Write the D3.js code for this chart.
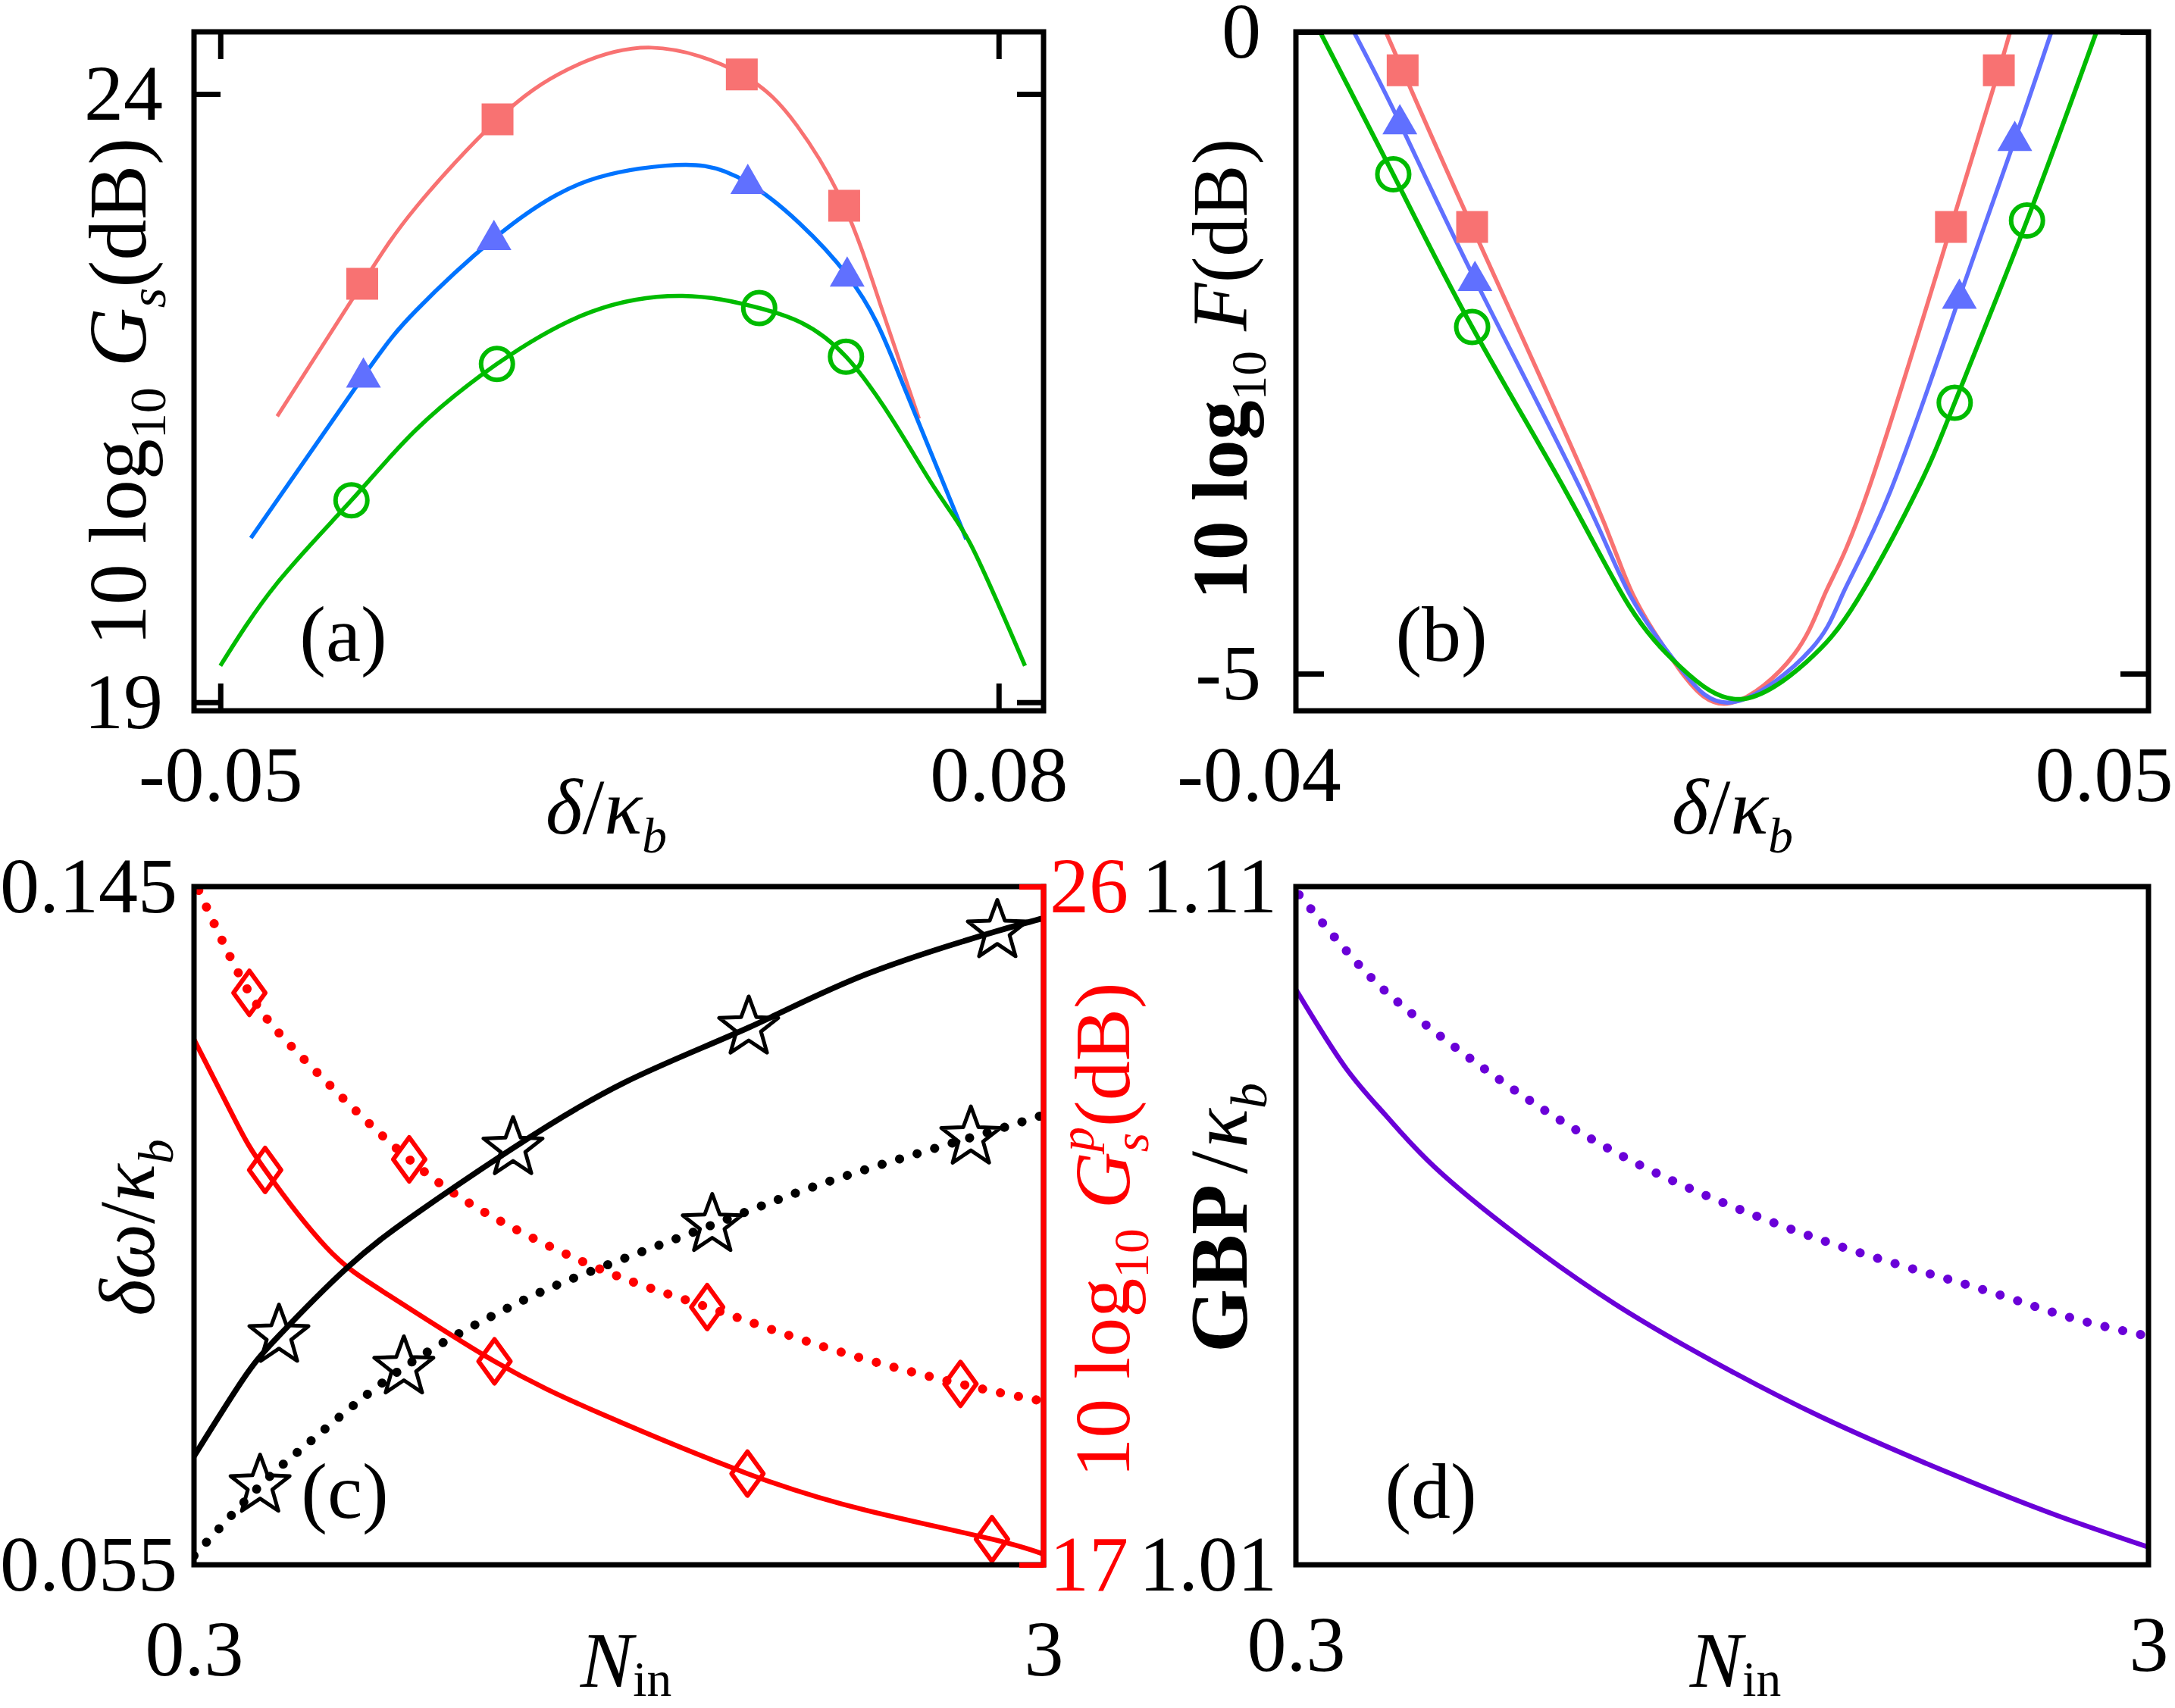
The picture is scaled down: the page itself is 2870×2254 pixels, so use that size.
<!DOCTYPE html>
<html>
<head>
<meta charset="utf-8">
<script src="https://cdn.jsdelivr.net/npm/d3@7"></script>
<style>
body { margin: 0; background: #fff; }
svg { display: block; }
text { font-family: "Liberation Serif", "Times New Roman", serif; }
</style>
</head>
<body>
<div id="chart"></div>
<script>
// (a) gain vs detuning
var aRed = [[-0.0405, 21.35], [-0.0263, 22.44], [-0.0173, 23.07], [-0.0037, 23.79], [0.0080, 24.20], [0.0220, 24.38], [0.0371, 24.16], [0.0463, 23.74], [0.0542, 23.08], [0.0603, 22.26], [0.0667, 21.33]];
var aBlue = [[-0.0449, 20.35], [-0.0261, 21.68], [-0.0173, 22.22], [-0.0043, 22.81], [0.0100, 23.26], [0.0244, 23.41], [0.0381, 23.27], [0.0547, 22.51], [0.0638, 21.64], [0.0746, 20.34]];
var aGreen = [[-0.0500, 19.30], [-0.0405, 19.98], [-0.0281, 20.66], [-0.0173, 21.24], [-0.0038, 21.78], [0.0120, 22.21], [0.0272, 22.34], [0.0400, 22.24], [0.0545, 21.84], [0.0684, 20.83], [0.0753, 20.30], [0.0844, 19.30]];
var aRedMarks = [[-0.0263, 22.44], [-0.0037, 23.79], [0.0371, 24.16], [0.0542, 23.08]];
var aBlueMarks = [[-0.0261, 21.68], [-0.0043, 22.81], [0.0381, 23.27], [0.0547, 22.51]];
var aGreenMarks = [[-0.0281, 20.66], [-0.0038, 21.78], [0.0400, 22.24], [0.0545, 21.84]];
var aTicksX = [-0.05, 0.08], aLabelsX = ["-0.05", "0.08"];
var aTicksY = [19, 24], aLabelsY = ["19", "24"];

// (b) noise figure vs detuning
var bRed = [[-0.0268, 0.0], [-0.0250, -0.30], [-0.0176, -1.52], [-0.0050, -3.57], [-0.0005, -4.38], [0.0045, -4.97], [0.0099, -5.23], [0.0167, -4.85], [0.0201, -4.36], [0.0246, -3.57], [0.0334, -1.52], [0.0385, -0.30], [0.0397, 0.0]];
var bBlue = [[-0.0302, 0.0], [-0.0253, -0.71], [-0.0173, -1.93], [-0.0060, -3.57], [-0.0007, -4.40], [0.0046, -4.96], [0.0104, -5.22], [0.0185, -4.81], [0.0220, -4.36], [0.0270, -3.57], [0.0343, -2.07], [0.0402, -0.84], [0.0441, 0.0]];
var bGreen = [[-0.0338, 0.0], [-0.0260, -1.11], [-0.0176, -2.30], [-0.0077, -3.57], [-0.0009, -4.47], [0.0046, -4.95], [0.0110, -5.20], [0.0180, -4.91], [0.0234, -4.43], [0.0298, -3.57], [0.0338, -2.89], [0.0415, -1.47], [0.0489, 0.0]];
var bRedMarks = [[-0.0250, -0.30], [-0.0176, -1.52], [0.0334, -1.52], [0.0385, -0.30]];
var bBlueMarks = [[-0.0253, -0.71], [-0.0173, -1.93], [0.0343, -2.07], [0.0402, -0.84]];
var bGreenMarks = [[-0.0260, -1.11], [-0.0176, -2.30], [0.0338, -2.89], [0.0415, -1.47]];
var bTicksX = [-0.04, 0.05], bLabelsX = ["-0.04", "0.05"];
var bTicksY = [-5, 0], bLabelsY = ["-5", "0"];

// (c) bandwidth (left axis) and gain (right axis) vs N_in
var cBlackSolid = [[0.3, 0.0694], [0.454, 0.0795], [0.570, 0.0854], [0.786, 0.0944], [1.006, 0.1016], [1.314, 0.1103], [1.668, 0.1190], [2.063, 0.1263], [2.439, 0.1334], [2.853, 0.1391], [3.0, 0.1408]];
var cBlackDotted = [[0.3, 0.0562], [0.510, 0.0655], [0.676, 0.0716], [0.967, 0.0812], [1.270, 0.0885], [1.516, 0.0932], [1.947, 0.1001], [2.327, 0.1060], [2.769, 0.1117], [3.0, 0.1147]];
var cRedSolid = [[0.3, 23.97], [0.432, 22.89], [0.526, 22.24], [0.719, 21.22], [0.918, 20.58], [1.255, 19.70], [1.601, 18.99], [2.059, 18.21], [2.439, 17.72], [2.836, 17.34], [3.0, 17.14]];
var cRedDotted = [[0.315, 25.95], [0.476, 24.59], [0.654, 23.69], [0.984, 22.38], [1.292, 21.52], [1.622, 20.87], [1.931, 20.42], [2.327, 19.86], [2.736, 19.40], [3.0, 19.17]];
var cSolidStars = [[0.570, 0.0854], [1.314, 0.1103], [2.063, 0.1263], [2.853, 0.1391]];
var cDottedStars = [[0.510, 0.0655], [0.967, 0.0812], [1.947, 0.1001], [2.769, 0.1117]];
var cSolidDiamonds = [[0.526, 22.24], [1.255, 19.70], [2.059, 18.21], [2.836, 17.34]];
var cDottedDiamonds = [[0.476, 24.59], [0.984, 22.38], [1.931, 20.42], [2.736, 19.40]];
var cTicksX = [0.3, 3], cLabelsX = ["0.3", "3"];
var cTicksY = [0.055, 0.145], cLabelsY = ["0.055", "0.145"];
var cTicksR = [17, 26], cLabelsR = ["17", "26"];

// (d) gain-bandwidth product vs N_in
var dSolid = [[0.3, 1.0948], [0.454, 1.0835], [0.584, 1.0763], [0.738, 1.0687], [1.001, 1.0586], [1.309, 1.0485], [1.617, 1.0401], [1.968, 1.0317], [2.386, 1.0232], [2.714, 1.0172], [3.0, 1.0126]];
var dDotted = [[0.31, 1.1088], [0.485, 1.0992], [0.617, 1.0932], [0.793, 1.0867], [1.046, 1.0783], [1.353, 1.0698], [1.716, 1.0622], [2.100, 1.0558], [2.474, 1.0506], [2.749, 1.0465], [3.0, 1.0437]];
var dTicksX = [0.3, 3], dLabelsX = ["0.3", "3"];
var dTicksY = [1.01, 1.11], dLabelsY = ["1.01", "1.11"];

var salmon = "#f87272", blueLine = "#0073ff", periwinkle = "#6070ff", green = "#00bb00";
var red = "#ff0000", purple = "#6a00d8";
var FS = 104;

var svg = d3.select("#chart")
  .append("svg")
  .attr("width", 2870)
  .attr("height", 2254);

function makePanel(id, box) {
  svg.append("clipPath")
    .attr("id", "clip-" + id)
    .append("rect")
    .attr("width", box.w)
    .attr("height", box.h);
  var g = svg.append("g")
    .attr("transform", "translate(" + box.x + "," + box.y + ")");
  g.plot = g.append("g").attr("clip-path", "url(#clip-" + id + ")");
  g.box = box;
  return g;
}

function drawFrame(g) {
  g.append("rect")
    .attr("width", g.box.w)
    .attr("height", g.box.h)
    .attr("fill", "none")
    .attr("stroke", "#000")
    .attr("stroke-width", 7);
}

function labelFormat(ticks, labels) {
  return function(d) { return labels[ticks.indexOf(d)]; };
}

function addAxis(g, axis, translate, color) {
  var a = g.append("g")
    .attr("transform", translate || null)
    .call(axis)
    .attr("font-size", FS)
    .attr("font-family", "Liberation Serif, serif");
  a.select(".domain").remove();
  a.selectAll(".tick line").attr("stroke", color || "#000").attr("stroke-width", 7);
  a.selectAll(".tick text").attr("fill", color || "#000");
  return a;
}

function drawLine(g, data, x, y, color, width, dotted) {
  var line = d3.line()
    .x(function(d) { return x(d[0]); })
    .y(function(d) { return y(d[1]); })
    .curve(d3.curveNatural);
  var path = g.plot.append("path")
    .datum(data)
    .attr("d", line)
    .attr("fill", "none")
    .attr("stroke", color)
    .attr("stroke-width", width);
  if (dotted) {
    path.attr("stroke-width", 12)
      .attr("stroke-dasharray", "0.1 24")
      .attr("stroke-linecap", "round");
  }
}

function starPath(ro, ri) {
  var pts = [];
  for (var i = 0; i < 10; i++) {
    var r = i % 2 === 0 ? ro : ri;
    var ang = -Math.PI / 2 + i * Math.PI / 5;
    pts.push([r * Math.cos(ang), r * Math.sin(ang)]);
  }
  return "M" + pts.join("L") + "Z";
}

var circlePath = d3.path();
circlePath.arc(0, 0, 21, 0, 2 * Math.PI);
var shapes = {
  square: "M-21,-21H21V21H-21Z",
  triangle: "M0,-25L23,15H-23Z",
  circle: circlePath.toString(),
  star: starPath(41, 17),
  diamond: "M0,-29L21,0L0,29L-21,0Z"
};

function drawMarkers(g, pts, x, y, shape, color, filled) {
  g.plot.selectAll(null)
    .data(pts)
    .enter()
    .append("path")
    .attr("d", shapes[shape])
    .attr("transform", function(d) { return "translate(" + x(d[0]) + "," + y(d[1]) + ")"; })
    .attr("fill", filled ? color : "none")
    .attr("stroke", filled ? "none" : color)
    .attr("stroke-width", shape === "star" ? 5 : 6)
    .attr("stroke-linejoin", "round");
}

// rich text: parts with {t, i, b, sub, sup, dx, shift}
function richText(g, x, y, rotate, parts, color, size) {
  var fs = size || FS;
  var t = g.append("text")
    .attr("transform", "translate(" + x + "," + y + ")" + (rotate ? " rotate(-90)" : ""))
    .attr("text-anchor", "middle")
    .attr("font-size", fs)
    .attr("fill", color || "#000");
  var shift = 0;
  parts.forEach(function(p) {
    var target = p.sub ? (p.shift || 0.24) * fs : (p.sup ? -0.45 * fs : 0);
    var s = t.append("tspan")
      .attr("dy", target - shift)
      .attr("font-size", (p.sub || p.sup) ? fs * 0.63 : fs)
      .attr("font-style", p.i ? "italic" : "normal")
      .attr("font-weight", p.b ? "bold" : "normal")
      .text(p.t);
    if (p.dx) s.attr("dx", p.dx);
    shift = target;
  });
  return t;
}

var deltaKappa = [{t: "δ", i: true}, {t: "/"}, {t: "κ", i: true}, {t: "b", i: true, sub: true}];
var nIn = [{t: "N", i: true}, {t: "in", sub: true, shift: 0.12}];

// ---------- (a) ----------
var ga = makePanel("a", {x: 256, y: 42, w: 1121, h: 896});
var xa = d3.scaleLinear().domain([-0.0544, 0.0875]).range([0, 1121]);
var ya = d3.scaleLinear().domain([18.93, 24.51]).range([896, 0]);
drawLine(ga, aRed, xa, ya, salmon, 5);
drawLine(ga, aBlue, xa, ya, blueLine, 5.5);
drawLine(ga, aGreen, xa, ya, green, 5.5);
drawMarkers(ga, aRedMarks, xa, ya, "square", salmon, true);
drawMarkers(ga, aBlueMarks, xa, ya, "triangle", periwinkle, true);
drawMarkers(ga, aGreenMarks, xa, ya, "circle", green, false);
drawFrame(ga);
addAxis(ga, d3.axisLeft(ya).tickValues(aTicksY).tickFormat(labelFormat(aTicksY, aLabelsY)).tickSize(-35).tickPadding(41));
addAxis(ga, d3.axisRight(ya).tickValues(aTicksY).tickFormat("").tickSize(-35), "translate(1121,0)");
addAxis(ga, d3.axisBottom(xa).tickValues(aTicksX).tickFormat(labelFormat(aTicksX, aLabelsX)).tickSize(-36).tickPadding(45), "translate(0,896)");
addAxis(ga, d3.axisTop(xa).tickValues(aTicksX).tickFormat("").tickSize(-36));
richText(svg, 192, 517, true, [{t: "10 log"}, {t: "10", sub: true}, {t: " "}, {t: "G", i: true}, {t: "s", i: true, sub: true}, {t: "(dB)"}], null, 108);
richText(svg, 800, 1100, false, deltaKappa);
richText(svg, 453, 872, false, [{t: "(a)"}]);

// ---------- (b) ----------
var gb = makePanel("b", {x: 1710, y: 42, w: 1125, h: 896});
var xb = d3.scaleLinear().domain([-0.03637, 0.05444]).range([0, 1125]);
var yb = d3.scaleLinear().domain([-5.29, 0]).range([896, 0]);
drawLine(gb, bRed, xb, yb, salmon, 5.5);
drawLine(gb, bBlue, xb, yb, periwinkle, 5.5);
drawLine(gb, bGreen, xb, yb, green, 6);
drawMarkers(gb, bRedMarks, xb, yb, "square", salmon, true);
drawMarkers(gb, bBlueMarks, xb, yb, "triangle", periwinkle, true);
drawMarkers(gb, bGreenMarks, xb, yb, "circle", green, false);
drawFrame(gb);
addAxis(gb, d3.axisLeft(yb).tickValues(bTicksY).tickFormat(labelFormat(bTicksY, bLabelsY)).tickSize(-37).tickPadding(46));
addAxis(gb, d3.axisRight(yb).tickValues(bTicksY).tickFormat("").tickSize(-37), "translate(1125,0)");
addAxis(gb, d3.axisBottom(xb).tickValues(bTicksX).tickFormat(labelFormat(bTicksX, bLabelsX)).tickSize(0).tickPadding(45), "translate(0,896)")
  .selectAll(".tick text").attr("dx", -4);
richText(svg, 1645, 487, true, [{t: "10 log", b: true}, {t: "10", sub: true}, {t: " "}, {t: "F", i: true}, {t: "(dB)"}]);
richText(svg, 2286, 1100, false, deltaKappa);
richText(svg, 1902, 872, false, [{t: "(b)"}]);

// ---------- (c) ----------
var gc = makePanel("c", {x: 256, y: 1170, w: 1121, h: 895});
var xc = d3.scaleLinear().domain([0.3, 3]).range([0, 1121]);
var yc = d3.scaleLinear().domain([0.055, 0.145]).range([895, 0]);
var yr = d3.scaleLinear().domain([17, 26]).range([895, 0]);
drawLine(gc, cRedDotted, xc, yr, red, 6, true);
drawLine(gc, cBlackDotted, xc, yc, "#000", 6, true);
drawLine(gc, cRedSolid, xc, yr, red, 6.5);
drawLine(gc, cBlackSolid, xc, yc, "#000", 7.5);
drawMarkers(gc, cDottedDiamonds, xc, yr, "diamond", red, false);
drawMarkers(gc, cSolidDiamonds, xc, yr, "diamond", red, false);
drawMarkers(gc, cDottedStars, xc, yc, "star", "#000", false);
drawMarkers(gc, cSolidStars, xc, yc, "star", "#000", false);
drawFrame(gc);
gc.append("line")
  .attr("x1", 1121).attr("x2", 1121)
  .attr("y1", -3.5).attr("y2", 898.5)
  .attr("stroke", red)
  .attr("stroke-width", 7);
addAxis(gc, d3.axisLeft(yc).tickValues(cTicksY).tickFormat(labelFormat(cTicksY, cLabelsY)).tickSize(0).tickPadding(22));
addAxis(gc, d3.axisRight(yr).tickValues(cTicksR).tickFormat(labelFormat(cTicksR, cLabelsR)).tickSize(-32).tickPadding(8), "translate(1121,0)", red);
addAxis(gc, d3.axisBottom(xc).tickValues(cTicksX).tickFormat(labelFormat(cTicksX, cLabelsX)).tickSize(0).tickPadding(72), "translate(0,895)");
richText(svg, 203, 1620, true, [{t: "δω", i: true}, {t: "/"}, {t: "κ", i: true}, {t: "b", i: true, sub: true}]);
richText(svg, 1490, 1623, true, [{t: "10 log"}, {t: "10", sub: true}, {t: " "}, {t: "G", i: true}, {t: "s", i: true, sub: true}, {t: "p", i: true, sup: true, dx: -25}, {t: "(dB)"}], red);
richText(svg, 826, 2226, false, nIn);
richText(svg, 455, 2003, false, [{t: "(c)"}]);

// ---------- (d) ----------
var gd = makePanel("d", {x: 1710, y: 1170, w: 1125, h: 895});
var xd = d3.scaleLinear().domain([0.3, 3]).range([0, 1125]);
var yd = d3.scaleLinear().domain([1.01, 1.11]).range([895, 0]);
drawLine(gd, dDotted, xd, yd, purple, 6, true);
drawLine(gd, dSolid, xd, yd, purple, 6.5);
drawFrame(gd);
addAxis(gd, d3.axisLeft(yd).tickValues(dTicksY).tickFormat(labelFormat(dTicksY, dLabelsY)).tickSize(0).tickPadding(25));
addAxis(gd, d3.axisBottom(xd).tickValues(dTicksX).tickFormat(labelFormat(dTicksX, dLabelsX)).tickSize(0).tickPadding(66), "translate(0,895)");
richText(svg, 1645, 1607, true, [{t: "GBP", b: true}, {t: "/", dx: 14}, {t: "κ", i: true, dx: 4}, {t: "b", i: true, sub: true}], null, 108);
richText(svg, 2290, 2226, false, nIn);
richText(svg, 1888, 2003, false, [{t: "(d)"}]);
</script>
</body>
</html>
